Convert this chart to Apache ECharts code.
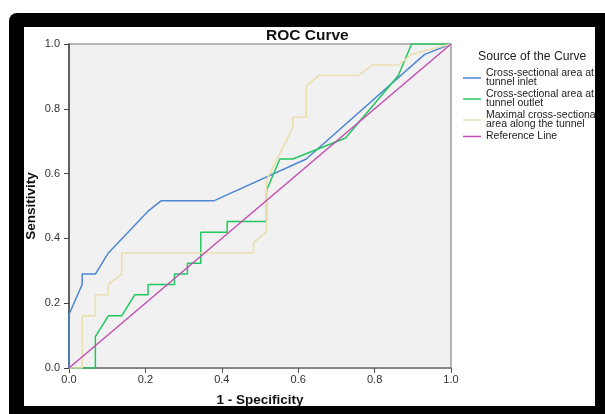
<!DOCTYPE html>
<html>
<head>
<meta charset="utf-8">
<script src="https://cdn.jsdelivr.net/npm/echarts@6/dist/echarts.min.js"></script>
<style>
html,body{margin:0;padding:0;background:#fff;}
#chart{width:605px;height:414px;}
</style>
</head>
<body>
<div id="chart"></div>
<script>
// ---- Data ----
const seriesNames = [
  'Cross-sectional area at\ntunnel inlet',
  'Cross-sectional area at\ntunnel outlet',
  'Maximal cross-sectional\narea along the tunnel',
  'Reference Line'
];
const inletPts = [[0,0],[0,0.165],[0.0345,0.258],[0.0345,0.29],[0.069,0.29],[0.103,0.355],[0.207,0.484],[0.241,0.516],[0.379,0.516],[0.621,0.645],[0.931,0.968],[1,1]];
const outletPts = [[0,0],[0.069,0],[0.069,0.097],[0.103,0.161],[0.138,0.161],[0.172,0.226],[0.207,0.226],[0.207,0.258],[0.276,0.258],[0.276,0.29],[0.31,0.29],[0.31,0.323],[0.345,0.323],[0.345,0.419],[0.414,0.419],[0.414,0.452],[0.517,0.452],[0.517,0.548],[0.552,0.645],[0.586,0.645],[0.724,0.71],[0.862,0.903],[0.897,1],[1,1]];
const maximalPts = [[0,0],[0.0345,0],[0.0345,0.161],[0.069,0.161],[0.069,0.226],[0.103,0.226],[0.103,0.258],[0.138,0.29],[0.138,0.355],[0.483,0.355],[0.483,0.387],[0.517,0.419],[0.517,0.58],[0.586,0.742],[0.586,0.774],[0.621,0.774],[0.621,0.871],[0.655,0.903],[0.759,0.903],[0.793,0.935],[0.862,0.935],[0.897,0.968],[1,1]];
const referencePts = [[0,0],[1,1]];
const tickValues = [0, 0.2, 0.4, 0.6, 0.8, 1.0];
const colors = ['#4f86d4', '#22c85f', '#eadfb0', '#c24fb2'];

const chart = echarts.init(document.getElementById('chart'), null, {renderer:'canvas'});
const allPts = [inletPts, outletPts, maximalPts, referencePts];
const font = 'Liberation Sans, Arial, sans-serif';

const option = {
  animation: false,
  backgroundColor: '#ffffff',
  textStyle: {fontFamily: font},
  graphic: [
    {type:'rect', zlevel:1, z:100, silent:true, shape:{x:9, y:13, width:596, height:14, r:[8,0,0,0]}, style:{fill:'#000'}},
    {type:'rect', zlevel:1, z:100, silent:true, shape:{x:9, y:20, width:15, height:394}, style:{fill:'#000'}},
    {type:'rect', zlevel:1, z:100, silent:true, shape:{x:595, y:13, width:10, height:401}, style:{fill:'#000'}},
    {type:'rect', zlevel:1, z:100, silent:true, shape:{x:9, y:406, width:596, height:8}, style:{fill:'#000'}}
  ],
  title: [
    {text:'ROC Curve', left:261, top:23, textStyle:{fontSize:15.5, fontWeight:'bold', color:'#111', fontFamily:font}},
    {text:'Source of the Curve', left:473, top:46, textStyle:{fontSize:12.2, fontWeight:'normal', color:'#222', fontFamily:font}}
  ],
  legend: {
    orient:'vertical', left:463, top:68, padding:0, itemGap:1, itemWidth:18, itemHeight:1.5,
    icon:'rect',
    data: seriesNames,
    textStyle:{fontSize:10.5, lineHeight:9, color:'#222', fontFamily:font}
  },
  grid: {left:69, right:154, top:44, bottom:46, show:true, backgroundColor:'#f1f1f1', borderColor:'#a0a0a0', borderWidth:1.5},
  xAxis: {
    type:'value', min:0, max:1, interval:0.2,
    name:'1 - Specificity', nameLocation:'middle', nameGap:25, nameMoveOverlap:false,
    nameTextStyle:{fontSize:13.5, fontWeight:'bold', color:'#111'},
    axisLine:{show:true, lineStyle:{color:'#777', width:1.5}},
    axisTick:{show:true, inside:false, length:5, lineStyle:{color:'#555'}},
    axisLabel:{fontSize:11, color:'#333', margin:6, formatter:v=>v.toFixed(1), customValues: tickValues},
    splitLine:{show:false}
  },
  yAxis: {
    type:'value', min:0, max:1, interval:0.2,
    name:'Sensitivity', nameLocation:'middle', nameGap:31, nameMoveOverlap:false,
    nameTextStyle:{fontSize:13.5, fontWeight:'bold', color:'#111'},
    axisLine:{show:true, lineStyle:{color:'#444', width:1.5}},
    axisTick:{show:true, inside:false, length:5, lineStyle:{color:'#444'}},
    axisLabel:{fontSize:11, color:'#333', margin:9, formatter:v=>v.toFixed(1)},
    splitLine:{show:false}
  },
  series: allPts.map((pts, i) => ({
    name: seriesNames[i],
    type:'line',
    data: pts,
    symbol:'none',
    color: colors[i],
    lineStyle:{color:colors[i], width: i===2 ? 1.6 : 1.5},
    z: i===3 ? 3 : 2
  }))
};
chart.setOption(option);
</script>
</body>
</html>
